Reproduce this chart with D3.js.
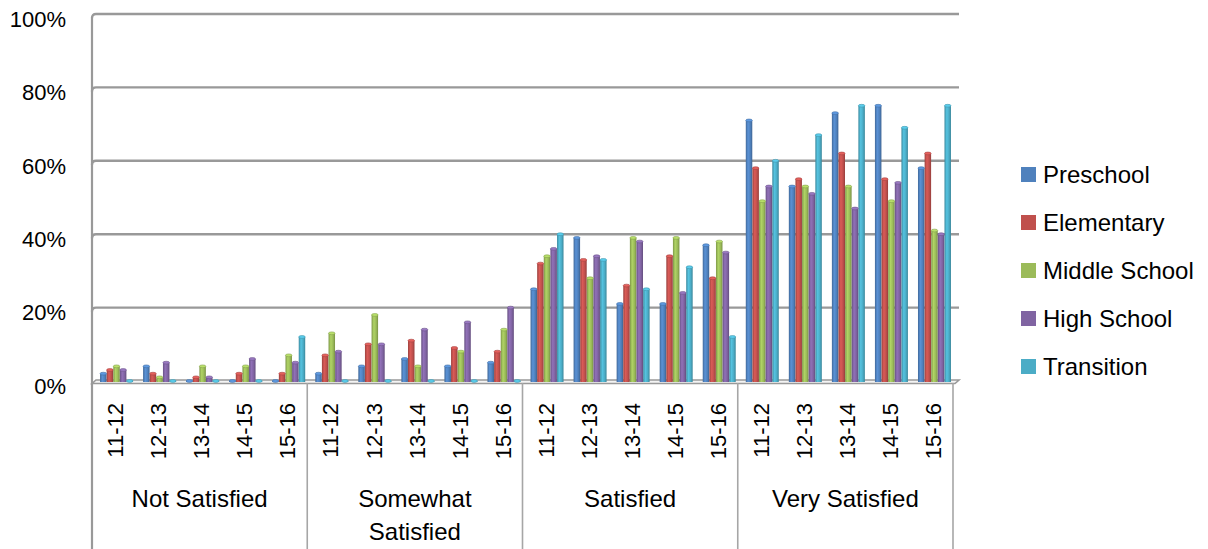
<!DOCTYPE html>
<html>
<head>
<meta charset="utf-8">
<script src="https://cdn.jsdelivr.net/npm/d3@7"></script>
<style>
  body { margin: 0; background: #fff; }
  text { font-family: "Liberation Sans", Arial, sans-serif; fill: #000; }
</style>
</head>
<body>
<div id="figure"></div>
<script>
var w = 1208;
var h = 549;

// data
var groups = ["Not Satisfied", "Somewhat Satisfied", "Satisfied", "Very Satisfied"];
var years = ["11-12", "12-13", "13-14", "14-15", "15-16"];
var seriesNames = ["Preschool", "Elementary", "Middle School", "High School", "Transition"];
var yTicks = [0, 0.2, 0.4, 0.6, 0.8, 1.0];

// values in %, group by group, year by year
var preschool  = [2, 4, 0, 0, 0,   2, 4, 6, 4, 5,    25, 39, 21, 21, 37,  71, 53, 73, 75, 58];
var elementary = [3, 2, 1, 2, 2,   7, 10, 11, 9, 8,  32, 33, 26, 34, 28,  58, 55, 62, 55, 62];
var middle     = [4, 1, 4, 4, 7,   13, 18, 4, 8, 14, 34, 28, 39, 39, 38,  49, 53, 53, 49, 41];
var high       = [3, 5, 1, 6, 5,   8, 10, 14, 16, 20, 36, 34, 38, 24, 35, 53, 51, 47, 54, 40];
var transition = [0, 0, 0, 0, 12,  0, 0, 0, 0, 0,    40, 33, 25, 31, 12,  60, 67, 75, 69, 75];
var seriesValues = [preschool, elementary, middle, high, transition];
var colors = ["#4F81BD", "#C0504D", "#9BBB59", "#8064A2", "#4BACC6"];

var left = 92, right = 953, floorY = 381, topY = 14;
var depth = 4;

var svg = d3.select('#figure')
	.append('svg')
	.attr('width', w)
	.attr('height', h);

var defs = svg.append('defs');

// categories: group|year
var cats = [];
groups.forEach(function(g){
	years.forEach(function(y){ cats.push(g + '|' + y); });
});

var xGroup = d3.scaleBand().domain(groups).range([left, right]);
var xScale = d3.scaleBand().domain(cats).range([left, right]);
var xSeries = d3.scaleBand()
	.domain(seriesNames)
	.range([0, xScale.bandwidth()])
	.paddingInner(0.02)
	.paddingOuter(0.76);
var yScale = d3.scaleLinear().domain([0, 1]).range([floorY, topY]);

// gradients for cylinder look
seriesNames.forEach(function(s, i){
	var c = d3.color(colors[i]);
	var g = defs.append('linearGradient')
		.attr('id', 'grad' + i)
		.attr('x1', 0).attr('x2', 1).attr('y1', 0).attr('y2', 0);
	g.append('stop').attr('offset', '0%').attr('stop-color', c.darker(0.6));
	g.append('stop').attr('offset', '35%').attr('stop-color', c.brighter(0.35));
	g.append('stop').attr('offset', '70%').attr('stop-color', c);
	g.append('stop').attr('offset', '100%').attr('stop-color', c.darker(0.7));
});

// gridlines (back wall)
var grid = svg.append('g').classed('gridlines', true);
grid.selectAll('path')
	.data(yTicks.slice(1))
	.enter()
	.append('path')
	.attr('d', function(d){
		var y = yScale(d);
		return 'M' + left + ',' + (y + depth) + 'Q' + left + ',' + y + ' ' + (left + depth) + ',' + y + 'H' + (right + 6);
	})
	.attr('fill', 'none')
	.attr('stroke', '#999')
	.attr('stroke-width', 2.4);

// floor
var floor = svg.append('g').classed('floor', true);
floor.append('path')
	.attr('d', 'M' + left + ',' + (floorY + 2.5) + 'L' + (left + depth) + ',' + (floorY - 1) + 'H' + (right + 6) +
		'L' + (right + 2) + ',' + (floorY + 2.5) + 'Z')
	.attr('fill', '#f4f4f4')
	.attr('stroke', '#999')
	.attr('stroke-width', 1.6);

// left axis
svg.append('line')
	.attr('x1', left).attr('x2', left)
	.attr('y1', yScale(1) + depth).attr('y2', h)
	.attr('stroke', '#999')
	.attr('stroke-width', 2.2);

// y tick labels
svg.append('g')
	.selectAll('text')
	.data(yTicks)
	.enter()
	.append('text')
	.attr('x', 66)
	.attr('y', function(d){ return yScale(d) + 5; })
	.attr('dy', '0.35em')
	.attr('text-anchor', 'end')
	.attr('font-size', 22)
	.text(function(d){ return Math.round(d * 100) + '%'; });

// bars
var bars = svg.append('g').classed('bars', true);
var barData = [];
seriesNames.forEach(function(s, si){
	cats.forEach(function(c, ci){
		barData.push({ series: s, si: si, cat: c, value: seriesValues[si][ci] / 100 });
	});
});

var bw = xSeries.bandwidth();
function barX(d){ return xScale(d.cat) + xSeries(d.series) + 3; }

bars.selectAll('rect')
	.data(barData)
	.enter()
	.append('rect')
	.attr('x', barX)
	.attr('y', function(d){ return yScale(d.value); })
	.attr('width', bw)
	.attr('height', function(d){ return floorY + 1 - yScale(d.value); })
	.attr('fill', function(d){ return 'url(#grad' + d.si + ')'; });

bars.selectAll('ellipse')
	.data(barData)
	.enter()
	.append('ellipse')
	.attr('cx', function(d){ return barX(d) + bw / 2; })
	.attr('cy', function(d){ return yScale(d.value); })
	.attr('rx', bw / 2)
	.attr('ry', 1.4)
	.attr('fill', function(d){ return d3.color(colors[d.si]).brighter(0.5); })
	.attr('stroke', function(d){ return d3.color(colors[d.si]).darker(0.4); })
	.attr('stroke-width', 0.6);

// category labels (years)
svg.append('g')
	.selectAll('text')
	.data(cats)
	.enter()
	.append('text')
	.attr('transform', function(d){
		return 'translate(' + (xScale(d) + xScale.bandwidth() / 2 + 2) + ',403) rotate(-90)';
	})
	.attr('text-anchor', 'end')
	.attr('dy', '0.35em')
	.attr('font-size', 22)
	.text(function(d){ return d.split('|')[1]; });

// group dividers
svg.append('g')
	.selectAll('line')
	.data(groups.slice(1).concat(['end']))
	.enter()
	.append('line')
	.attr('x1', function(d){ return d === 'end' ? right : xGroup(d); })
	.attr('x2', function(d){ return d === 'end' ? right : xGroup(d); })
	.attr('y1', floorY + 2)
	.attr('y2', h)
	.attr('stroke', '#a6a6a6')
	.attr('stroke-width', 1.6);

// group labels
var groupLines = {
	"Not Satisfied": ["Not Satisfied"],
	"Somewhat Satisfied": ["Somewhat", "Satisfied"],
	"Satisfied": ["Satisfied"],
	"Very Satisfied": ["Very Satisfied"]
};
var gl = svg.append('g')
	.selectAll('text')
	.data(groups)
	.enter()
	.append('text')
	.attr('x', function(d){ return xGroup(d) + xGroup.bandwidth() / 2; })
	.attr('y', 507)
	.attr('text-anchor', 'middle')
	.attr('font-size', 24);
gl.selectAll('tspan')
	.data(function(d){ return groupLines[d]; })
	.enter()
	.append('tspan')
	.attr('x', function(){ return d3.select(this.parentNode).attr('x'); })
	.attr('dy', function(d, i){ return i === 0 ? 0 : 33; })
	.text(function(d){ return d; });

// legend
var legend = svg.append('g')
	.classed('legend', true)
	.selectAll('g')
	.data(seriesNames)
	.enter()
	.append('g')
	.attr('transform', function(d, i){ return 'translate(1021,' + (167 + i * 48) + ')'; });

legend.append('rect')
	.attr('width', 15)
	.attr('height', 15)
	.attr('fill', function(d, i){ return colors[i]; });

legend.append('text')
	.attr('x', 22)
	.attr('y', 16)
	.attr('font-size', 24)
	.text(function(d){ return d; });
</script>
</body>
</html>
